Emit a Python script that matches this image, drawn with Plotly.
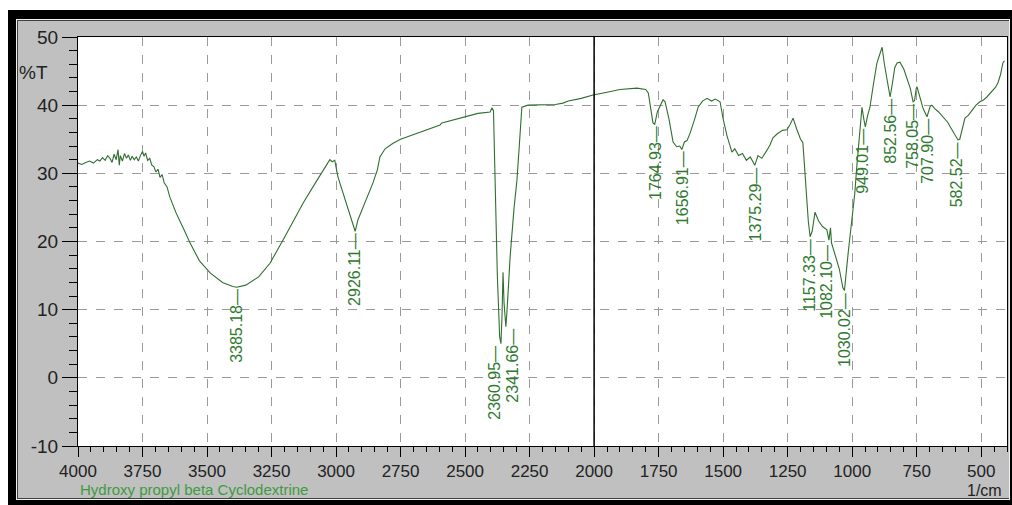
import plotly.graph_objects as go

# ---- data ----
wavenumber = [
    4000, 3985, 3970, 3955, 3940, 3925, 3915, 3905, 3895, 3885, 3876, 3868, 3860, 3852, 3845,
    3840, 3836, 3828, 3820, 3812, 3805, 3797, 3790, 3782, 3774, 3766, 3758, 3750, 3744, 3738,
    3730, 3722, 3714, 3706, 3698, 3690, 3682, 3674, 3666, 3655, 3644, 3620, 3590, 3566, 3530,
    3488, 3440, 3400, 3385, 3350, 3300, 3256, 3200, 3128, 3080, 3035, 3024, 3015, 3005, 2993,
    2975, 2965, 2950, 2935, 2926, 2915, 2900, 2880, 2857, 2840, 2830, 2810, 2779, 2750, 2700,
    2650, 2597, 2590, 2550, 2500, 2450, 2403, 2396, 2390, 2384, 2375, 2366, 2361, 2357, 2353,
    2349, 2345, 2342, 2338, 2325, 2310, 2299, 2290, 2283, 2280, 2256, 2200, 2150, 2121, 2100,
    2050, 2004, 1950, 1900, 1834, 1800, 1790, 1780, 1772, 1765, 1755, 1733, 1725, 1710, 1694,
    1680, 1668, 1660, 1650, 1640, 1628, 1610, 1597, 1580, 1562, 1545, 1530, 1512, 1500, 1485,
    1466, 1455, 1440, 1425, 1410, 1395, 1377, 1365, 1350, 1330, 1318, 1307, 1290, 1270, 1253,
    1240, 1229, 1215, 1200, 1191, 1180, 1170, 1163, 1155, 1144, 1130, 1115, 1098, 1090, 1084,
    1080, 1070, 1050, 1036, 1030, 1015, 1001, 990, 981, 970, 962, 955, 949, 940, 931,
    918, 904, 890, 884, 875, 865, 857, 853, 845, 835, 826, 815, 800, 788, 775,
    764, 758, 752, 749, 740, 725, 710, 705, 698, 691, 680, 665, 648, 630, 615,
    600, 590, 583, 570, 563, 550, 535, 520, 505, 490, 478, 460, 445, 435, 425,
    416, 410,
]
transmittance = [
    31.5, 31.3, 31.6, 31.8, 31.5, 32.0, 31.8, 32.3, 31.9, 32.6, 32.2, 31.6, 32.8, 32.0, 33.5,
    31.2, 32.6, 31.8, 32.9, 32.2, 32.7, 31.9, 32.5, 32.0, 32.4, 31.8, 32.6, 33.2, 32.5, 33.0,
    31.9, 32.2, 31.2, 31.0, 30.2, 30.6, 29.4, 29.8, 28.6, 28.0, 26.5, 24.2, 21.8, 19.8, 17.2,
    15.4, 14.0, 13.4, 13.3, 13.6, 14.8, 16.8, 20.6, 25.6, 28.6, 31.5, 32.0, 31.7, 31.9, 29.5,
    27.4, 26.1, 24.5, 22.5, 21.5, 23.2, 24.6, 26.6, 28.6, 30.5, 32.4, 33.6, 34.4, 35.0, 35.7,
    36.4, 37.1, 37.4, 37.8, 38.3, 38.8, 39.0, 39.6, 39.2, 30.0, 15.0, 6.0, 5.0, 9.0, 15.5,
    11.0, 8.5, 7.5, 9.5, 18.0, 25.0, 29.0, 34.0, 38.5, 39.7, 40.0, 40.0, 40.1, 40.3, 40.6,
    41.0, 41.5, 41.9, 42.3, 42.5, 42.3, 41.8, 39.5, 37.4, 37.2, 39.0, 40.8, 40.5, 38.0, 34.6,
    33.9, 34.0, 33.5, 34.6, 34.8, 35.9, 38.0, 39.7, 40.6, 41.0, 40.6, 40.9, 40.5, 38.0, 35.5,
    33.1, 33.6, 32.6, 32.9, 31.9, 32.4, 31.2, 32.6, 32.2, 33.4, 34.2, 35.2, 35.8, 36.3, 36.4,
    37.2, 38.1, 36.5, 35.0, 34.5, 28.0, 23.0, 20.7, 21.5, 24.3, 23.0, 22.2, 21.7, 20.2, 22.0,
    19.8, 18.5, 16.0, 13.2, 12.8, 18.5, 23.6, 27.0, 31.5, 36.0, 39.7, 38.0, 36.8, 38.5, 39.7,
    43.0, 46.2, 47.8, 48.5, 46.0, 43.5, 41.5, 41.2, 43.0, 45.5, 46.2, 46.3, 45.3, 44.1, 42.5,
    40.5, 40.7, 42.4, 42.7, 41.5, 39.5, 38.3, 39.0, 39.8, 40.0, 39.5, 39.0, 38.3, 37.5, 36.5,
    35.5, 34.9, 35.0, 37.0, 38.1, 38.5, 39.2, 40.0, 40.5, 40.8, 41.2, 42.0, 42.6, 43.3, 44.5,
    46.2, 46.5,
]

peak_labels = ["3385.18", "2926.11", "2360.95", "2341.66", "1764.93", "1656.91", "1375.29",
               "1157.33", "1082.10", "1030.02", "949.01", "852.56", "758.05", "707.90", "582.52"]
peak_wn = [3385.18, 2926.11, 2360.95, 2341.66, 1764.93, 1656.91, 1375.29,
           1157.33, 1082.10, 1030.02, 949.01, 852.56, 758.05, 707.90, 582.52]
peak_t = [13.3, 21.5, 5.0, 7.5, 37.2, 33.5, 31.2, 20.7, 19.8, 12.8, 36.8, 41.2, 40.5, 38.3, 34.9]
peak_xshift = [0, 0, -6, 7, 0, 0, 0, -2, -4, 0, -3, 0, -2, 0, -3]

x_ticks = [4000, 3750, 3500, 3250, 3000, 2750, 2500, 2250, 2000, 1750, 1500, 1250, 1000, 750, 500]
y_ticks = [-10, 0, 10, 20, 30, 40, 50]

W, H = 1012, 505
L, R, T, B = 78, 1007, 37, 446


def px(x):
    return (x - L) / (R - L)


def py(y):
    return (B - y) / (B - T)


line_green = "#2f6f2f"
label_green = "#2e7a2e"
title_green = "#3f9a3f"
font = "Liberation Sans, Arial, sans-serif"

fig = go.Figure()
fig.add_trace(go.Scatter(x=wavenumber, y=transmittance, mode="lines",
                         line=dict(color=line_green, width=1.1), hoverinfo="skip",
                         showlegend=False))

shapes = [
    # outer black frame
    dict(type="rect", xref="paper", yref="paper", x0=px(8), x1=px(1013), y0=py(10), y1=py(506),
         fillcolor="black", line=dict(width=0), layer="below"),
    dict(type="rect", xref="paper", yref="paper", x0=px(16), x1=px(1010), y0=py(19), y1=py(500),
         fillcolor="#f0f0f0", line=dict(width=0), layer="below"),
    dict(type="rect", xref="paper", yref="paper", x0=px(17), x1=px(1009), y0=py(20), y1=py(499),
         fillcolor="#404040", line=dict(width=0), layer="below"),
    dict(type="rect", xref="paper", yref="paper", x0=px(18), x1=px(1009), y0=py(21), y1=py(498),
         fillcolor="#c0c0c0", line=dict(width=0), layer="below"),
    dict(type="rect", xref="paper", yref="paper", x0=0, x1=1, y0=0, y1=1,
         fillcolor="white", line=dict(width=0), layer="below"),
    # vertical black marker at 2000
    dict(type="line", xref="x", yref="paper", x0=2000, x1=2000, y0=0, y1=1,
         line=dict(color="black", width=1.5)),
]

annotations = []
for lab, xw, yt, xs in zip(peak_labels, peak_wn, peak_t, peak_xshift):
    annotations.append(dict(x=xw, y=yt, xref="x", yref="y", text=lab + "\u2014",
                            textangle=-90, showarrow=False, xanchor="center", yanchor="top",
                            xshift=xs, font=dict(family=font, size=16, color=label_green)))

annotations += [
    dict(x=px(50), y=py(72), xref="paper", yref="paper", text="%T", showarrow=False,
         xanchor="right", yanchor="middle", font=dict(family=font, size=19, color="#222")),
    dict(x=px(78), y=py(500), xref="paper", yref="paper",
         text="Hydroxy propyl beta Cyclodextrine", showarrow=False,
         xanchor="left", yanchor="bottom", font=dict(family=font, size=15, color=title_green)),
    dict(x=px(1004), y=py(501), xref="paper", yref="paper", text="1/cm", showarrow=False,
         xanchor="right", yanchor="bottom", font=dict(family=font, size=16, color="#222")),
]

fig.update_layout(
    width=W, height=H,
    margin=dict(l=L, r=W - R, t=T, b=H - B, pad=0),
    paper_bgcolor="white", plot_bgcolor="white",
    shapes=shapes, annotations=annotations, showlegend=False,
    font=dict(family=font, size=17, color="#222"),
)
fig.update_xaxes(range=[4000, 400], tickmode="array", tickvals=x_ticks,
                 ticktext=[str(v) for v in x_ticks],
                 ticks="outside", ticklen=10, tickwidth=1, tickcolor="black",
                 showline=True, linecolor="black", linewidth=1, mirror=True,
                 showgrid=True, gridcolor="#9a9a9a", griddash="dash", gridwidth=1,
                 zeroline=False,
                 minor=dict(dtick=50, tick0=0, ticks="outside", ticklen=5,
                            tickcolor="black", showgrid=False),
                 tickfont=dict(family=font, size=17, color="#222"))
fig.update_yaxes(range=[-10, 50], tickmode="array", tickvals=y_ticks,
                 ticktext=[str(v) for v in y_ticks],
                 ticks="outside", ticklen=15, tickwidth=1, tickcolor="black",
                 showline=True, linecolor="black", linewidth=1, mirror=True,
                 showgrid=True, gridcolor="#9a9a9a", griddash="dash", gridwidth=1,
                 zeroline=False,
                 minor=dict(dtick=2, tick0=0, ticks="outside", ticklen=8,
                            tickcolor="black", showgrid=False),
                 tickfont=dict(family=font, size=19, color="#222"))

fig.write_html("out.html")
